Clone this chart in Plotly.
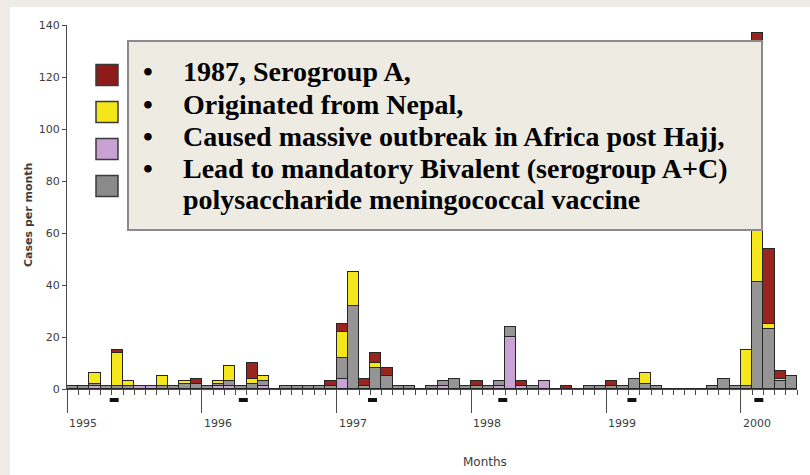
import plotly.graph_objects as go

# ---------------- data (months: index 0 = Jan 1995 ... 64 = May 2000) ----------------
months = list(range(65))
lilac = [0,0,1,0,0,0,1,1,0,0,0,0,
         0,1,1,0,0,1,0,0,0,0,0,0,
         4,0,0,0,0,0,0,0,0,1,0,0,
         0,0,1,20,1,0,3,0,0,0,0,0,
         0,0,0,0,0,0,0,0,0,0,0,0,
         0,0,0,0,0]
gray = [1,1,1,1,1,1,0,0,1,1,2,2,
        1,1,2,1,2,2,0,1,1,1,1,1,
        8,32,1,8,5,1,1,0,1,2,4,1,
        1,1,2,4,0,1,0,0,0,0,1,1,
        1,1,4,2,1,0,0,0,0,1,4,1,
        1,41,23,3,5]
yellow = [0,0,4,0,13,2,0,0,4,0,1,0,
          0,1,6,0,2,2,0,0,0,0,0,0,
          10,13,0,2,0,0,0,0,0,0,0,0,
          0,0,0,0,0,0,0,0,0,0,0,0,
          0,0,0,4,0,0,0,0,0,0,0,0,
          14,48,2,1,0]
red = [0,0,0,0,1,0,0,0,0,0,0,2,
       0,0,0,0,6,0,0,0,0,0,0,2,
       3,0,3,4,3,0,0,0,0,0,0,0,
       2,0,0,0,2,0,0,0,1,0,0,0,
       2,0,0,0,0,0,0,0,0,0,0,0,
       0,48,29,3,0]
hajj_months = [4.2, 15.7, 27.2, 38.8, 50.3, 61.6]
year_labels = ["1995", "1996", "1997", "1998", "1999", "2000"]
year_starts = [0, 12, 24, 36, 48, 60]
y_ticks = [0, 20, 40, 60, 80, 100, 120, 140]
box_lines = ["1987, Serogroup A,",
             "Originated from Nepal,",
             "Caused massive outbreak in Africa post Hajj,",
             "Lead to mandatory Bivalent (serogroup A+C)",
             "polysaccharide meningococcal vaccine"]
box_bullets = [True, True, True, True, False]

# ---------------- style ----------------
C_RED = "#9a2520"
C_YEL = "#f6e61c"
C_LIL = "#c9a3d3"
C_GRY = "#959595"
BG = "#efece5"
W, H = 810, 475
L, R, T, B = 67, 797, 25, 389


def px_x(px):
    return (px - L) / (R - L)


def px_y(py):
    return (B - py) / (B - T)


xc = [m + 0.5 for m in months]
fig = go.Figure()
for name, vals, col in [("Lilac", lilac, C_LIL), ("Gray", gray, C_GRY),
                        ("Yellow", yellow, C_YEL), ("Red", red, C_RED)]:
    fig.add_trace(go.Bar(x=xc, y=vals, width=1, name=name,
                         marker=dict(color=col, line=dict(color="#262626", width=1)),
                         showlegend=False, hoverinfo="skip"))

shapes = []
# white panel
shapes.append(dict(type="rect", xref="paper", yref="paper", layer="below",
                   x0=px_x(10), x1=px_x(812), y0=px_y(477), y1=px_y(7),
                   fillcolor="white", line=dict(width=0)))
# Hajj period markers below the axis (x on the month axis)
for hm in hajj_months:
    shapes.append(dict(type="rect", xref="x", yref="paper", layer="above",
                       x0=hm - 0.4, x1=hm + 0.4, y0=px_y(402), y1=px_y(398),
                       fillcolor="#111", line=dict(width=0)))
# legend swatches (labels hidden behind the box)
for col, yc in [("#8e1a1a", 75), ("#f5e61a", 112), ("#c8a2d2", 149), ("#8a8a8a", 186)]:
    shapes.append(dict(type="rect", xref="paper", yref="paper", layer="above",
                       x0=px_x(96), x1=px_x(118), y0=px_y(yc + 10.5), y1=px_y(yc - 10.5),
                       fillcolor=col, line=dict(color="#3a3a3a", width=1.5)))
# text box
shapes.append(dict(type="rect", xref="paper", yref="paper", layer="above",
                   x0=px_x(128), x1=px_x(762), y0=px_y(230), y1=px_y(41),
                   fillcolor="#eeebe3", line=dict(color="#8a8a8a", width=2)))

annotations = []
line_y = [71, 104, 136, 168, 200]
for txt, bul, yy in zip(box_lines, box_bullets, line_y):
    if bul:
        annotations.append(dict(xref="paper", yref="paper", x=px_x(141), y=px_y(yy),
                                text="<b>•</b>", showarrow=False, xanchor="left", yanchor="middle",
                                font=dict(family="Liberation Serif", size=28, color="#000")))
    annotations.append(dict(xref="paper", yref="paper", x=px_x(181), y=px_y(yy),
                            text="<b>" + txt + "</b>", showarrow=False,
                            xanchor="left", yanchor="middle",
                            font=dict(family="Liberation Serif", size=28, color="#000")))
for lab, ys in zip(year_labels, year_starts):
    annotations.append(dict(xref="x", yref="paper", x=ys, y=0, yshift=-26,
                            text=lab, showarrow=False, xanchor="left", yanchor="top",
                            font=dict(family="DejaVu Sans", size=11, color="#3c3c3c")))
annotations.append(dict(xref="paper", yref="paper", x=px_x(485), y=px_y(462),
                        text="Months", showarrow=False, xanchor="center", yanchor="middle",
                        font=dict(family="DejaVu Sans", size=12, color="#3c3c3c")))
annotations.append(dict(xref="paper", yref="paper", x=px_x(29), y=px_y(215),
                        text="<b>Cases per month</b>", showarrow=False, textangle=-90,
                        xanchor="center", yanchor="middle",
                        font=dict(family="DejaVu Sans", size=11, color="#3c3c3c")))

fig.update_layout(
    width=W, height=H, barmode="stack", bargap=0,
    margin=dict(l=L, r=W - R, t=T, b=H - B, pad=0),
    paper_bgcolor=BG, plot_bgcolor="rgba(0,0,0,0)",
    shapes=shapes, annotations=annotations,
    xaxis=dict(range=[0, 65], showgrid=False, zeroline=False,
               showline=True, linecolor="#4a4a4a", linewidth=1,
               tickmode="array", tickvals=year_starts, ticks="outside",
               ticklen=23, tickcolor="#4a4a4a", tickwidth=1, showticklabels=False,
               minor=dict(tickmode="linear", tick0=0, dtick=1, ticks="outside",
                          ticklen=5, tickcolor="#4a4a4a", tickwidth=1, showgrid=False)),
    yaxis=dict(range=[0, 140], showgrid=False, zeroline=False,
               showline=True, linecolor="#4a4a4a", linewidth=1,
               tickmode="array", tickvals=y_ticks, ticks="outside", ticklen=4,
               tickcolor="#4a4a4a", tickfont=dict(family="DejaVu Sans", size=11, color="#3c3c3c")),
)

fig.write_html("out.html", config={"displayModeBar": False},
               post_script="document.body.style.margin='0';document.body.style.background='" + BG + "';"
                           "document.body.style.overflow='hidden';")
